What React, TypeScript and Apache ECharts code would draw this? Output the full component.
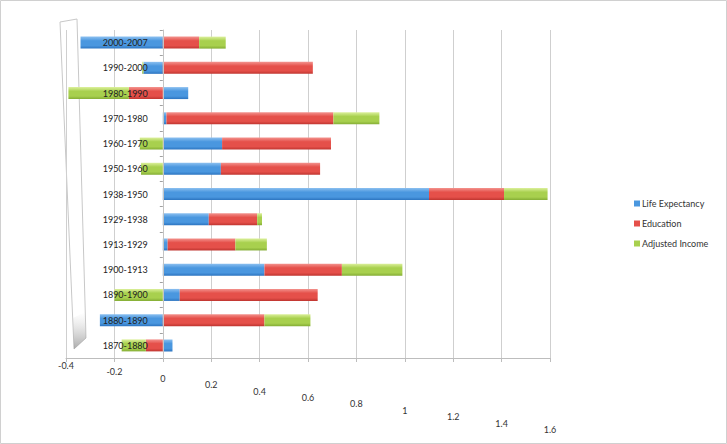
import React, { useEffect, useRef } from "react";
import * as echarts from "echarts";

const categories = [
  "1870-1880", "1880-1890", "1890-1900", "1900-1913", "1913-1929", "1929-1938",
  "1938-1950", "1950-1960", "1960-1970", "1970-1980", "1980-1990", "1990-2000", "2000-2007",
];
const lifeExpectancy = [0.04, -0.26, 0.07, 0.42, 0.02, 0.19, 1.1, 0.24, 0.245, 0.015, 0.105, -0.08, -0.34];
const education = [-0.07, 0.42, 0.57, 0.32, 0.28, 0.2, 0.31, 0.41, 0.45, 0.69, -0.14, 0.62, 0.15];
const adjustedIncome = [-0.1, 0.19, -0.2, 0.25, 0.13, 0.02, 0.18, -0.09, -0.095, 0.19, -0.25, -0.005, 0.11];
const seriesNames = ["Life Expectancy", "Education", "Adjusted Income"];
const xMin = -0.4;
const xMax = 1.6;
const xStep = 0.2;

const FONT = "Lato, 'Open Sans', sans-serif";

function cyl(top: string, mid: string, bottom: string) {
  return new echarts.graphic.LinearGradient(0, 0, 0, 1, [
    { offset: 0, color: top },
    { offset: 0.35, color: mid },
    { offset: 0.75, color: mid },
    { offset: 1, color: bottom },
  ]);
}

export default function App() {
  const ref = useRef<HTMLDivElement>(null);
  useEffect(() => {
    document.body.style.margin = "0";
    const chart = echarts.init(ref.current!, null, { renderer: "svg" });
    const solid = ["#4a97df", "#e5504a", "#a8d04e"];
    const grads = [
      cyl("#8cc0f0", "#4a97df", "#2c74c0"),
      cyl("#f3938e", "#e5504a", "#bf3530"),
      cyl("#dcf09c", "#a8d04e", "#84ad35"),
    ];
    const datas = [lifeExpectancy, education, adjustedIncome];
    const rich: Record<string, any> = {};
    const nTicks = Math.round((xMax - xMin) / xStep);
    for (let i = 0; i <= nTicks; i++) {
      rich["s" + i] = {
        fontFamily: FONT,
        fontSize: 9,
        color: "#333",
        padding: [i * 6.4, 0, 0, 0],
      };
    }
    const gridLeft = 66;
    const gridRight = 177;
    const plotW = 727 - gridLeft - gridRight;
    const zeroX = gridLeft + ((0 - xMin) / (xMax - xMin)) * plotW;
    chart.setOption({
      animation: false,
      backgroundColor: "#ffffff",
      grid: { left: gridLeft, right: gridRight, top: 30, bottom: 86, containLabel: false },
      legend: {
        orient: "vertical",
        left: 629,
        top: 194,
        itemWidth: 6,
        itemHeight: 6,
        itemGap: 11,
        icon: "rect",
        textStyle: { fontFamily: FONT, fontSize: 9, color: "#333", padding: [0, 0, 0, -3] },
        data: seriesNames.map((n, i) => ({ name: n, itemStyle: { color: solid[i] } })),
      },
      xAxis: {
        type: "value",
        min: xMin,
        max: xMax,
        interval: xStep,
        axisLine: { show: true, lineStyle: { color: "#bdbdbd" } },
        axisTick: { show: true, length: 4, lineStyle: { color: "#bdbdbd" } },
        splitLine: { show: true, lineStyle: { color: "#cfcfcf", width: 1 } },
        axisLabel: {
          margin: 3,
          formatter: (v: number) => {
            const i = Math.round((v - xMin) / xStep);
            const t = Math.abs(v) < 1e-9 ? "0" : String(Math.round(v * 10) / 10);
            return "{s" + i + "|" + t + "}";
          },
          rich,
        },
      },
      yAxis: {
        type: "category",
        data: categories,
        z: 5,
        offset: -(zeroX - gridLeft),
        axisLine: { show: true, onZero: false, lineStyle: { color: "#c4c4c4" } },
        axisTick: { show: true, length: 3, lineStyle: { color: "#a0a0a0" } },
        axisLabel: { fontFamily: FONT, fontSize: 9, color: "#222", margin: 15, padding: [6, 0, 0, 0] },
      },
      series: seriesNames.map((n, i) => ({
        name: n,
        type: "bar",
        stack: "total",
        barWidth: 12,
        data: datas[i],
        itemStyle: { color: grads[i] },
      })),
      graphic: [
        {
          type: "rect",
          shape: { x: 0.5, y: 0.5, width: 726, height: 443 },
          style: { fill: "none", stroke: "#d0d0d0", lineWidth: 1 },
          silent: true,
        },
        {
          type: "polygon",
          shape: { points: [[60, 22], [77, 19], [86, 338], [74, 349]] },
          style: { fill: "none", stroke: "#c8c8c8", lineWidth: 1 },
          silent: true,
        },
        {
          type: "polygon",
          shape: { points: [[73, 318], [85, 312], [86, 338], [74, 349]] },
          style: {
            fill: new echarts.graphic.LinearGradient(0, 0, 0, 1, [
              { offset: 0, color: "rgba(200,200,200,0)" },
              { offset: 1, color: "rgba(150,150,150,0.8)" },
            ]),
          },
          silent: true,
        },
      ],
    });
    return () => chart.dispose();
  }, []);
  return <div ref={ref} style={{ width: 727, height: 444 }} />;
}
